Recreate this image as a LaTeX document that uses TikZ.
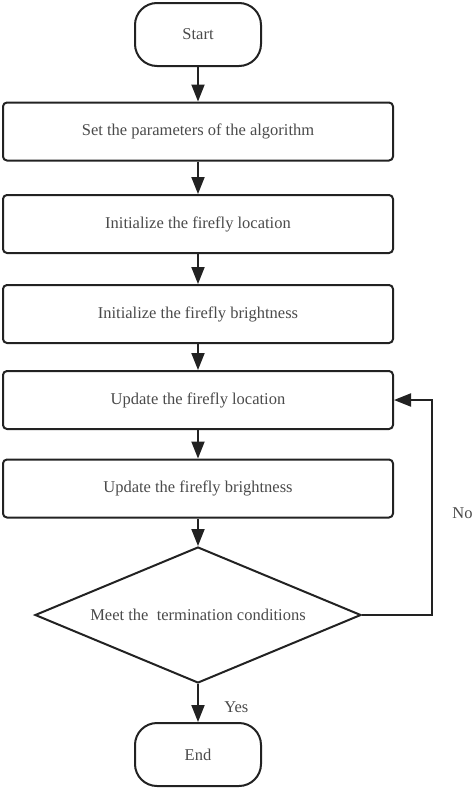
\documentclass[tikz,border=0pt]{standalone}
\usepackage{fontspec}
\setmainfont{Liberation Serif}
\usetikzlibrary{arrows.meta,shapes.geometric}
\definecolor{linec}{HTML}{222222}
\definecolor{txtgray}{HTML}{4A4A4A}
\begin{document}
\begin{tikzpicture}[x=1pt,y=-1pt,
  line width=2pt,
  every node/.style={text=txtgray, font=\fontsize{16.5}{19}\selectfont},
  term/.style={draw=linec, rounded corners=22pt, minimum width=126pt, minimum height=63pt, inner sep=0pt},
  proc/.style={draw=linec, rounded corners=4pt, minimum width=390pt, minimum height=58pt, inner sep=0pt},
  dec/.style={draw=linec, diamond, aspect=2.4, minimum width=326pt, minimum height=136pt, inner sep=0pt},
  arr/.style={draw=linec, -{Triangle[length=17pt,width=13pt]}}
]
\useasboundingbox (0,0) rectangle (474,790);
\node[term] (start) at (198,34.5) {Start};
\node[proc] (p1) at (198,131.5) {Set the parameters of the algorithm};
\node[proc] (p2) at (198,224) {Initialize the firefly location};
\node[proc] (p3) at (198,314) {Initialize the firefly brightness};
\node[proc] (p4) at (198,400) {Update the firefly location};
\node[proc] (p5) at (198,488.5) {Update the firefly brightness};
\node[dec] (dec) at (198,615) {Meet the\ \ termination conditions};
\node[term] (end) at (198,754.5) {End};
\node[anchor=west] (yeslab) at (220,707) {Yes};
\node[anchor=west] (nolab) at (448,513) {No};
\coordinate (loopc) at (432,615);
\draw[arr] (start) -- (p1);
\draw[arr] (p1) -- (p2);
\draw[arr] (p2) -- (p3);
\draw[arr] (p3) -- (p4);
\draw[arr] (p4) -- (p5);
\draw[arr] (p5) -- (dec);
\draw[arr] (dec) -- (end);
\draw[arr] (dec.east) -- (loopc) |- (p4.east);
\end{tikzpicture}
\end{document}
